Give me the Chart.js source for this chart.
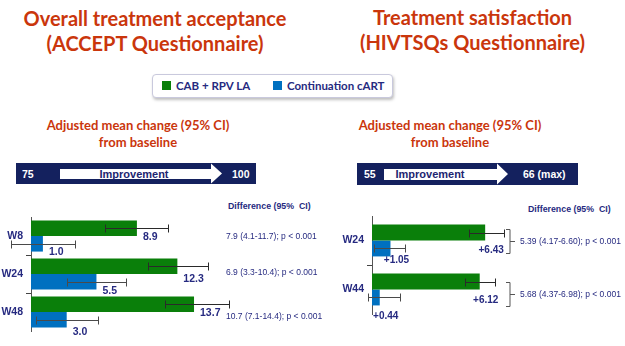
<!DOCTYPE html>
<html>
<head>
<meta charset="utf-8">
<script src="https://cdn.jsdelivr.net/npm/chart.js@4"></script>
<style>
  html, body { margin: 0; padding: 0; background: #fff; }
  #page { position: relative; width: 625px; height: 346px; overflow: hidden; font-family: "Liberation Sans", Arial, sans-serif; }
  .title { position: absolute; color: #CA360C; font-family: Lato, sans-serif; font-weight: bold; font-size: 20px; line-height: 25px; text-align: center; }
  .sub { position: absolute; color: #CA360C; font-family: Lato, sans-serif; font-weight: bold; font-size: 13px; line-height: 17px; text-align: center; }
  .diffhead { position: absolute; color: #262a80; font-weight: bold; font-size: 8.8px; }
  #legend { position: absolute; left: 152px; top: 74px; width: 239px; height: 22px; border: 1px solid #c9c9dd; border-radius: 4px;
            box-shadow: 1px 2px 3px rgba(0,0,0,0.25); background: #fff; font-family: Lato, sans-serif; font-weight: bold; font-size: 11.5px; color: #262a80; }
  #legend span { position: absolute; top: 4px; white-space: nowrap; }
  #legend i { position: absolute; top: 6px; width: 9px; height: 9px; }
  canvas { position: absolute; }
</style>
</head>
<body>
<div id="page">
  <div class="title" style="left:0;width:310px;top:6px;">Overall treatment acceptance<br>(ACCEPT Questionnaire)</div>
  <div class="title" style="left:320px;width:305px;top:5px;">Treatment satisfaction<br>(HIVTSQs Questionnaire)</div>

  <div id="legend">
    <i style="left:9px;background:#0A7F0A;"></i><span style="left:23px;">CAB + RPV LA</span>
    <i style="left:120px;background:#0070C0;"></i><span style="left:134px;">Continuation cART</span>
  </div>

  <div class="sub" style="left:38px;width:200px;top:117px;">Adjusted mean change (95% CI)<br>from baseline</div>
  <div class="sub" style="left:350px;width:200px;top:117px;">Adjusted mean change (95% CI)<br>from baseline</div>

  <svg width="625" height="346" style="position:absolute;left:0;top:0;">
    <rect x="16" y="163" width="240" height="21" fill="#14215E"/>
    <polygon points="60,169 211,169 211,163.5 222,173.5 211,183.5 211,179 60,179" fill="#fff"/>
    <text x="22" y="177.5" fill="#fff" font-family="Liberation Sans" font-weight="bold" font-size="10.5">75</text>
    <text x="134" y="177.5" fill="#1d2670" font-family="Liberation Sans" font-weight="bold" font-size="11" text-anchor="middle">Improvement</text>
    <text x="232" y="177.5" fill="#fff" font-family="Liberation Sans" font-weight="bold" font-size="10.5">100</text>

    <rect x="357" y="163" width="221" height="22" fill="#14215E"/>
    <polygon points="384,169 497,169 497,163.5 508,174 497,184.5 497,180 384,180" fill="#fff"/>
    <text x="364" y="178" fill="#fff" font-family="Liberation Sans" font-weight="bold" font-size="10.5">55</text>
    <text x="430" y="178" fill="#1d2670" font-family="Liberation Sans" font-weight="bold" font-size="11" text-anchor="middle">Improvement</text>
    <text x="523" y="178" fill="#fff" font-family="Liberation Sans" font-weight="bold" font-size="10.5">66 (max)</text>
  </svg>

  <div class="diffhead" style="left:228px;top:201px;">Difference (95%&nbsp; CI)</div>
  <div class="diffhead" style="left:528px;top:204px;">Difference (95%&nbsp; CI)</div>

  <canvas id="accept" width="335" height="146" style="left:0;top:200px;"></canvas>
  <canvas id="satisf" width="285" height="146" style="left:340px;top:200px;"></canvas>
</div>

<script>
// ACCEPT questionnaire (left)
const weeksA = ['W8', 'W24', 'W48'];
const cabA = [8.9, 12.3, 13.7];
const cabALo = [6.2, 9.8, 11.3];
const cabAHi = [11.5, 14.9, 16.6];
const cartA = [1.0, 5.5, 3.0];
const cartALo = [-1.7, 3.0, 0.4];
const cartAHi = [3.7, 8.0, 5.6];
const diffA = ['7.9 (4.1-11.7); p < 0.001', '6.9 (3.3-10.4); p < 0.001', '10.7 (7.1-14.4); p < 0.001'];

// HIVTSQs questionnaire (right)
const weeksB = ['W24', 'W44'];
const cabB = [6.43, 6.12];
const cabBLo = [5.5, 5.3];
const cabBHi = [7.5, 7.0];
const cartB = [1.05, 0.44];
const cartBLo = [0.1, -0.2];
const cartBHi = [1.9, 1.6];
const diffB = ['5.39 (4.17-6.60); p < 0.001', '5.68 (4.37-6.98); p < 0.001'];

const GREEN = '#0A7F0A';
const BLUE = '#0070C0';
const NAVY = '#262a80';

// error bars drawn from lo/hi arrays on each dataset
const errorBars = {
    id: 'errorBars',
    afterDatasetsDraw(chart) {
        const ctx = chart.ctx;
        const xs = chart.scales.x;
        ctx.save();
        chart.data.datasets.forEach((ds, i) => {
            const meta = chart.getDatasetMeta(i);
            ctx.strokeStyle = i === 0 ? '#2a2a2a' : '#4a4a4a';
            ctx.lineWidth = 1;
            meta.data.forEach((bar, j) => {
                const y = Math.round(bar.y) + 0.5;
                const x1 = Math.round(xs.getPixelForValue(ds.lo[j])) + 0.5;
                const x2 = Math.round(xs.getPixelForValue(ds.hi[j])) + 0.5;
                ctx.beginPath();
                ctx.moveTo(x1, y); ctx.lineTo(x2, y);
                ctx.moveTo(x1, y - 4); ctx.lineTo(x1, y + 4);
                ctx.moveTo(x2, y - 4); ctx.lineTo(x2, y + 4);
                ctx.stroke();
            });
        });
        ctx.restore();
    }
};

// value labels + difference texts (+ braces on the right panel)
const annotations = {
    id: 'annotations',
    afterDraw(chart, args, opts) {
        const ctx = chart.ctx;
        const ys = chart.scales.y;
        ctx.save();
        ctx.fillStyle = NAVY;
        ctx.font = 'bold ' + opts.labelSize + 'px "Liberation Sans", Arial, sans-serif';
        ctx.textBaseline = 'middle';
        ctx.textAlign = opts.labelAlign;
        chart.data.datasets.forEach((ds, i) => {
            const meta = chart.getDatasetMeta(i);
            meta.data.forEach((bar, j) => {
                const x = bar.x + opts.labelDx;
                const y = bar.y + bar.height / 2 + opts.labelDy[i][j];
                ctx.fillText(ds.tags[j], x, y);
            });
        });

        ctx.font = '8.5px "Liberation Sans", Arial, sans-serif';
        ctx.textAlign = 'left';
        opts.diffs.forEach((t, j) => {
            const y = ys.getPixelForTick(j) + opts.diffDy[j];
            ctx.fillText(t, opts.diffX, y);
            if (opts.brace) {
                const bx = opts.diffX - 10;
                ctx.strokeStyle = '#555';
                ctx.lineWidth = 1;
                ctx.beginPath();
                ctx.moveTo(bx - 4, y - 12); ctx.lineTo(bx, y - 12); ctx.lineTo(bx, y + 12); ctx.lineTo(bx - 4, y + 12);
                ctx.moveTo(bx, y); ctx.lineTo(bx + 5, y);
                ctx.stroke();
            }
        });
        ctx.restore();
    }
};

function hideEnds(n) {
    return c => (c.index === undefined || c.index === 0 || c.index >= n) ? 'rgba(0,0,0,0)' : '#444';
}

function makeChart(id, weeks, cab, cabLo, cabHi, cabTags, cart, cartLo, cartHi, cartTags, cfg) {
    return new Chart(document.getElementById(id), {
        type: 'bar',
        data: {
            labels: weeks,
            datasets: [
                { label: 'CAB + RPV LA', data: cab, lo: cabLo, hi: cabHi, tags: cabTags, backgroundColor: GREEN },
                { label: 'Continuation cART', data: cart, lo: cartLo, hi: cartHi, tags: cartTags, backgroundColor: BLUE }
            ]
        },
        options: {
            indexAxis: 'y',
            responsive: false,
            animation: false,
            layout: { padding: { top: cfg.top, bottom: cfg.bottom, left: 0, right: 0 } },
            datasets: { bar: { categoryPercentage: cfg.catPct, barPercentage: 1 } },
            scales: {
                x: { display: false, min: 0, max: cfg.max },
                y: {
                    afterFit: s => { s.width = cfg.axisX; },
                    border: { display: true, color: '#555', width: 1 },
                    grid: { offset: true, drawOnChartArea: false, drawTicks: true, tickLength: 5, color: hideEnds(weeks.length), tickColor: hideEnds(weeks.length) },
                    ticks: { color: NAVY, padding: 3, font: { family: '"Liberation Sans", Arial, sans-serif', weight: 'bold', size: 10.5 } }
                }
            },
            plugins: {
                legend: { display: false },
                tooltip: { enabled: false },
                annotations: cfg.ann
            }
        },
        plugins: [errorBars, annotations]
    });
}

makeChart('accept', weeksA, cabA, cabALo, cabAHi, cabA.map(v => v.toFixed(1)),
    cartA, cartALo, cartAHi, cartA.map(v => v.toFixed(1)), {
        top: 17, bottom: 15, catPct: 0.82, axisX: 31, max: 304 / 11.9,
        ann: { labelSize: 10.5, labelAlign: 'left', labelDx: 6, labelDy: [[1, 5, 1], [1, 2, 5]], diffs: diffA, diffX: 226, diffDy: [1, -1, 5], brace: false }
    });

makeChart('satisf', weeksB, cabB, cabBLo, cabBHi, cabB.map(v => '+' + v.toFixed(2)),
    cartB, cartBLo, cartBHi, cartB.map(v => '+' + v.toFixed(2)), {
        top: 16, bottom: 32, catPct: 0.65, axisX: 32, max: 253 / 17.6,
        ann: { labelSize: 10, labelAlign: 'center', labelDx: 6, labelDy: [[10, 11], [4, 11]], diffs: diffB, diffX: 180, diffDy: [1, 5], brace: true }
    });
</script>
</body>
</html>
